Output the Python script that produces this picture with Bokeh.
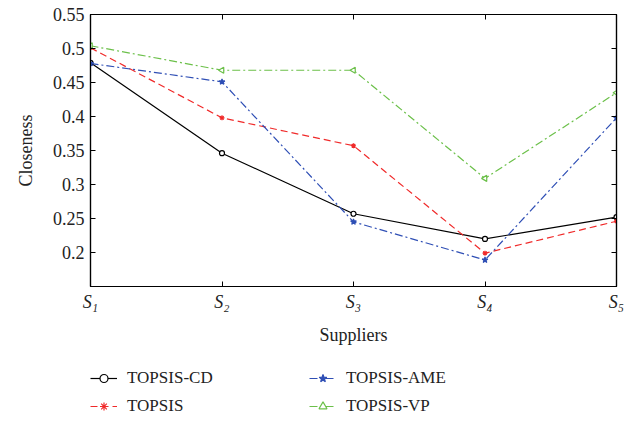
import math
from bokeh.plotting import figure
from bokeh.layouts import column
from bokeh.models import (Range1d, FixedTicker, LinearAxis, Legend, LegendItem,
                          CustomJSTickFormatter)
from bokeh.embed import file_html
from bokeh.resources import INLINE

suppliers = [1, 2, 3, 4, 5]
supplier_labels = ["S\u2081", "S\u2082", "S\u2083", "S\u2084", "S\u2085"]
topsis_cd = [0.479, 0.346, 0.257, 0.220, 0.252]
topsis = [0.501, 0.398, 0.357, 0.199, 0.246]
topsis_ame = [0.478, 0.451, 0.245, 0.189, 0.398]
topsis_vp = [0.504, 0.468, 0.468, 0.309, 0.435]
y_ticks = [0.2, 0.25, 0.3, 0.35, 0.4, 0.45, 0.5, 0.55]

FONT = "Liberation Serif"

STYLES = [
    dict(name="TOPSIS-CD", data=topsis_cd, color="black", dash="solid",
         marker="circle", size=5, fill="white", angle=0.0),
    dict(name="TOPSIS", data=topsis, color="#f02a2a", dash="7 4",
         marker="asterisk", size=5, fill="#f02a2a", angle=0.0),
    dict(name="TOPSIS-AME", data=topsis_ame, color="#2f4fb5", dash="8 3 2 3",
         marker="star", size=6, fill="#2f4fb5", angle=0.0),
    dict(name="TOPSIS-VP", data=topsis_vp, color="#6cc04a", dash="8 3 2 3",
         marker="triangle", size=6, fill="white", angle=math.pi / 2),
]


def draw(fig):
    out = []
    for s in STYLES:
        ln = fig.line(suppliers, s["data"], line_color=s["color"], line_width=1.2,
                      line_dash=s["dash"])
        mk = fig.scatter(suppliers, s["data"], marker=s["marker"], size=s["size"],
                         line_color=s["color"], fill_color=s["fill"], angle=s["angle"],
                         line_width=1.2)
        out.append((s["name"], ln, mk))
    return out


p = figure(width=637, height=352, frame_width=526, frame_height=272,
           output_backend="svg", toolbar_location=None,
           x_range=Range1d(1, 5), y_range=Range1d(0.15, 0.55),
           min_border_left=90, min_border_right=21, min_border_top=14,
           min_border_bottom=0)
p.grid.visible = False
p.outline_line_color = "black"
p.outline_line_width = 1.2
draw(p)

for ax in [p.xaxis[0], p.yaxis[0]]:
    ax.major_tick_in = 5
    ax.major_tick_out = 0
    ax.minor_tick_line_color = None
    ax.axis_line_width = 1.2
    ax.major_label_text_font = FONT
    ax.major_label_text_font_size = "18px"
    ax.major_label_text_color = "#222222"
    ax.axis_label_text_font = FONT
    ax.axis_label_text_font_size = "18px"
    ax.axis_label_text_font_style = "normal"
    ax.axis_label_text_color = "#222222"

p.xaxis.ticker = FixedTicker(ticks=suppliers)
p.xaxis.major_label_overrides = {s: l for s, l in zip(suppliers, supplier_labels)}
p.xaxis.major_label_text_font_style = "italic"
p.xaxis.major_label_standoff = 5
p.xaxis.axis_label = "Suppliers"
p.xaxis.axis_label_standoff = 10

p.yaxis.ticker = FixedTicker(ticks=y_ticks)
p.yaxis.formatter = CustomJSTickFormatter(code="return String(+tick.toFixed(2));")
p.yaxis.major_label_standoff = 6
p.yaxis.axis_label = "Closeness"
p.yaxis.axis_label_standoff = 14

top = LinearAxis(ticker=FixedTicker(ticks=suppliers), major_tick_in=5, major_tick_out=0,
                 minor_tick_line_color=None, major_label_text_font_size="0px",
                 axis_line_width=1.2)
right = LinearAxis(ticker=FixedTicker(ticks=y_ticks), major_tick_in=5, major_tick_out=0,
                   minor_tick_line_color=None, major_label_text_font_size="0px",
                   axis_line_width=1.2)
p.add_layout(top, "above")
p.add_layout(right, "right")

# legend strip: same series drawn out of view, legend shown in its frame
lf = figure(width=637, height=69, output_backend="svg", toolbar_location=None,
            x_range=Range1d(100, 101), y_range=Range1d(100, 101),
            min_border_left=0, min_border_right=0, min_border_top=0,
            min_border_bottom=0)
lf.axis.visible = False
lf.grid.visible = False
lf.outline_line_color = None
entries = draw(lf)

legend = Legend(items=[LegendItem(label=n, renderers=[ln, mk]) for n, ln, mk in entries],
                ncols=2, location=(0, 0))
legend.border_line_color = None
legend.background_fill_alpha = 0
legend.label_text_font = "serif"
legend.label_text_font_size = "17px"
legend.label_text_color = "#222222"
legend.glyph_width = 27
legend.glyph_height = 20
legend.label_height = 20
legend.label_width = 174
legend.spacing = 8
legend.padding = 0
legend.margin = 0
legend.label_standoff = 10
lf.add_layout(legend, "center")

open("out.html", "w").write(file_html(column(p, lf, spacing=0), INLINE))
